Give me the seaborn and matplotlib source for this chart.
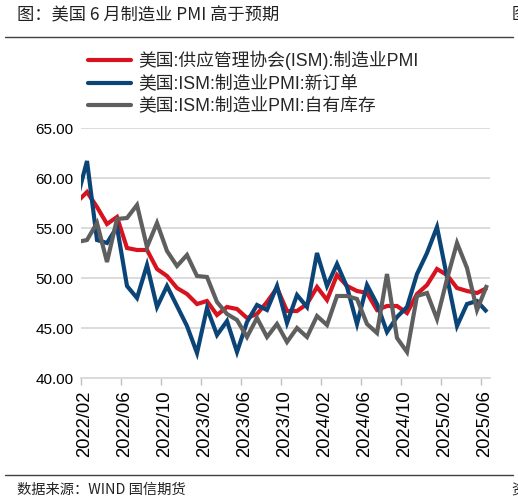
import numpy as np
import pandas as pd
import matplotlib
matplotlib.use("Agg")
import matplotlib.pyplot as plt
from matplotlib.lines import Line2D
import seaborn as sns

# ---- data (monthly, 2022/01 .. 2025/06) ----
months = [f"{y}/{m:02d}" for y in range(2022, 2026) for m in range(1, 13)][:42]

pmi = [57.6, 58.6, 57.1, 55.4, 56.1, 53.0, 52.8, 52.8, 50.9, 50.2, 49.0, 48.4,
       47.4, 47.7, 46.3, 47.1, 46.9, 46.0, 46.4, 47.6, 49.0, 46.7, 46.7, 47.4,
       49.1, 47.8, 50.3, 49.2, 48.7, 48.5, 46.8, 47.2, 47.2, 46.5, 48.4, 49.3,
       50.9, 50.3, 49.0, 48.7, 48.5, 49.0]

new_orders = [57.9, 61.7, 53.8, 53.5, 55.1, 49.2, 48.0, 51.3, 47.1, 49.2, 47.2, 45.2,
              42.5, 47.0, 44.3, 45.7, 42.6, 45.6, 47.3, 46.8, 49.2, 45.5, 48.3, 47.1,
              52.5, 49.2, 51.4, 49.1, 45.4, 49.3, 47.4, 44.6, 46.1, 47.1, 50.4, 52.5,
              55.1, 50.1, 45.2, 47.4, 47.7, 46.6]

inventories = [53.6, 53.8, 55.5, 51.6, 55.9, 56.0, 57.3, 53.1, 55.5, 52.7, 51.2, 52.3,
               50.2, 50.1, 47.6, 46.4, 45.8, 44.1, 46.0, 44.1, 45.4, 43.6, 45.0, 44.1,
               46.2, 45.3, 48.2, 48.2, 47.9, 45.4, 44.5, 50.4, 44.0, 42.6, 48.2, 48.5,
               45.9, 49.9, 53.5, 51.0, 46.8, 49.3]

series_names = ["美国:供应管理协会(ISM):制造业PMI",
                "美国:ISM:制造业PMI:新订单",
                "美国:ISM:制造业PMI:自有库存"]
colors = ["#d7131f", "#0b4577", "#5f5f5f"]

tick_labels = ["2022/02", "2022/06", "2022/10", "2023/02", "2023/06", "2023/10",
               "2024/02", "2024/06", "2024/10", "2025/02", "2025/06"]
yticks = [40, 45, 50, 55, 60, 65]

# ---- build long table ----
idx = np.arange(len(months))
df = pd.concat([
    pd.DataFrame({"m": idx, "v": vals, "series": name})
    for name, vals in zip(series_names, [pmi, new_orders, inventories])
], ignore_index=True)

sns.set_theme(style="white")
plt.rcParams["font.family"] = ["Liberation Sans", "Noto Sans CJK SC"]

W, H = 518, 504
fig = plt.figure(figsize=(W / 100, H / 100), dpi=100)
ax = fig.add_axes([81 / W, 1 - 378 / H, (490 - 81) / W, 250 / H])

sns.lineplot(data=df, x="m", y="v", hue="series", hue_order=series_names,
             palette=colors, linewidth=3.0, ax=ax, legend=False,
             solid_capstyle="butt", solid_joinstyle="miter")

ax.set_xlim(0.4, 41.3)
ax.set_ylim(40, 65)
ax.set_yticks(yticks)
ax.set_yticklabels([f"{v:.2f}" for v in yticks], fontsize=11, color="#000000")
ax.yaxis.grid(True, color="#d9d9d9", linewidth=1.3)
ax.xaxis.grid(False)
ax.set_axisbelow(True)
ax.tick_params(axis="y", length=0, pad=5.5)

label_pos = list(np.arange(0.8, 42, 4))[:len(tick_labels)]
ax.set_xticks(label_pos)
ax.set_xticklabels(tick_labels, rotation=90, fontsize=13.3, color="#000000")
ax.tick_params(axis="x", which="major", length=0, pad=9)
ax.set_xticks(np.arange(0.4, 41, 4), minor=True)
ax.tick_params(axis="x", which="minor", length=5, width=1, color="#bfbfbf",
               bottom=True)
ax.set_xlabel("")
ax.set_ylabel("")
for s in ["top", "right", "left"]:
    ax.spines[s].set_visible(False)
ax.spines["bottom"].set_color("#d9d9d9")
ax.spines["bottom"].set_linewidth(1.3)

handles = [Line2D([], [], color=c, linewidth=3.0) for c in colors]
fig.legend(handles, series_names, loc="upper left",
           bbox_to_anchor=(88 / W, 1 - 51 / H), frameon=False,
           handlelength=2.4, handletextpad=0.4,
           labelspacing=0.31, borderpad=0, borderaxespad=0,
           prop={"family": ["Liberation Sans", "Noto Sans CJK SC"], "size": 12.8})

# title, rules, footer
fig.text(17 / W, 1 - 15 / H, "图：美国 6 月制造业 PMI 高于预期", fontsize=12.4,
         family=["Noto Sans CJK SC", "DejaVu Sans"], va="center", ha="left",
         color="#222222")
fig.text(511.5 / W, 1 - 14 / H, "图", fontsize=12,
         family=["Noto Sans CJK SC", "DejaVu Sans"], va="center", ha="left",
         color="#222222")
fig.add_artist(Line2D([5 / W, 513 / W], [1 - 37 / H] * 2, color="#404040",
                      linewidth=1.0))
fig.add_artist(Line2D([5 / W, 513 / W], [1 - 475 / H] * 2, color="#404040",
                      linewidth=1.0))
fig.text(17 / W, 1 - 490 / H, "数据来源：WIND 国信期货", fontsize=10.3,
         family=["Noto Sans CJK SC", "DejaVu Sans"], va="center", ha="left",
         color="#222222")
fig.text(511.5 / W, 1 - 490 / H, "资", fontsize=10.3,
         family=["Noto Sans CJK SC", "DejaVu Sans"], va="center", ha="left",
         color="#222222")

fig.savefig("out.png", dpi=100)
